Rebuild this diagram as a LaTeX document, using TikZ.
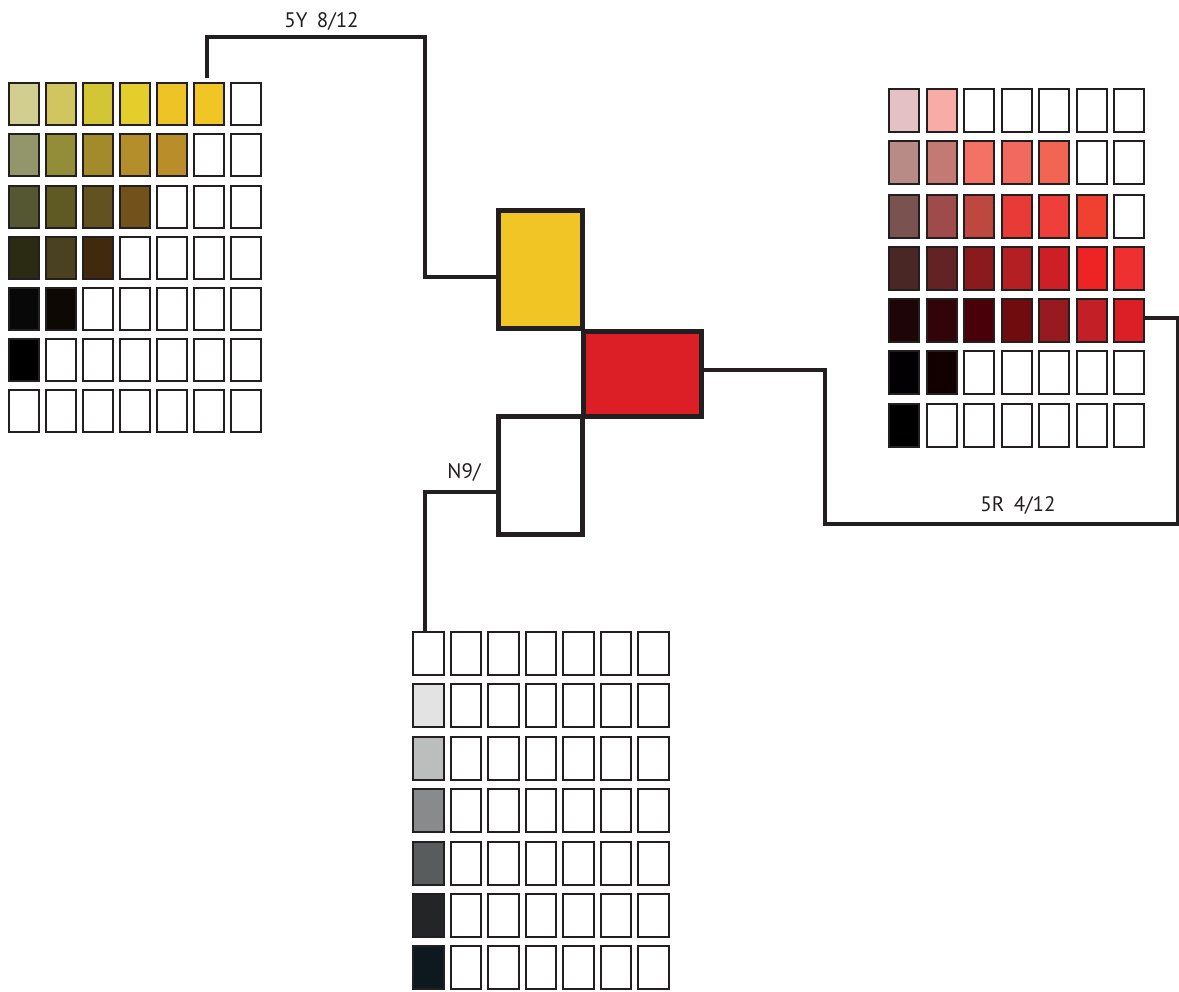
\documentclass[tikz,border=0pt]{standalone}
\usepackage{fontspec}
\setmainfont{PT Sans}
\definecolor{ink}{HTML}{231F20}
% yellow grid
\definecolor{ya1}{HTML}{D2CE8F}\definecolor{ya2}{HTML}{D0C55E}\definecolor{ya3}{HTML}{D4C534}
\definecolor{ya4}{HTML}{E4CE2B}\definecolor{ya5}{HTML}{EDC325}\definecolor{ya6}{HTML}{F0C524}
\definecolor{yb1}{HTML}{93956A}\definecolor{yb2}{HTML}{938D3A}\definecolor{yb3}{HTML}{A38B2B}
\definecolor{yb4}{HTML}{B38E2A}\definecolor{yb5}{HTML}{B88D2A}
\definecolor{yc1}{HTML}{555733}\definecolor{yc2}{HTML}{5F5A23}\definecolor{yc3}{HTML}{62521F}
\definecolor{yc4}{HTML}{72511A}
\definecolor{yd1}{HTML}{2A2B12}\definecolor{yd2}{HTML}{4A421E}\definecolor{yd3}{HTML}{40290C}
\definecolor{ye1}{HTML}{080808}\definecolor{ye2}{HTML}{0D0804}
\definecolor{yf1}{HTML}{000000}
% red grid
\definecolor{ra1}{HTML}{E3C1C4}\definecolor{ra2}{HTML}{F8ACA8}
\definecolor{rb1}{HTML}{B98B87}\definecolor{rb2}{HTML}{C47A74}\definecolor{rb3}{HTML}{F37265}
\definecolor{rb4}{HTML}{F26A5F}\definecolor{rb5}{HTML}{F26552}
\definecolor{rc1}{HTML}{7A5351}\definecolor{rc2}{HTML}{9F4B4B}\definecolor{rc3}{HTML}{BE473F}
\definecolor{rc4}{HTML}{E83B38}\definecolor{rc5}{HTML}{EE3F3B}\definecolor{rc6}{HTML}{EF4030}
\definecolor{rd1}{HTML}{482725}\definecolor{rd2}{HTML}{632223}\definecolor{rd3}{HTML}{8A1A1C}
\definecolor{rd4}{HTML}{B41F23}\definecolor{rd5}{HTML}{CE1E26}\definecolor{rd6}{HTML}{EE2424}
\definecolor{rd7}{HTML}{EE3030}
\definecolor{re1}{HTML}{1E0508}\definecolor{re2}{HTML}{33030A}\definecolor{re3}{HTML}{4A0009}
\definecolor{re4}{HTML}{700B0E}\definecolor{re5}{HTML}{961A1E}\definecolor{re6}{HTML}{C21F26}
\definecolor{re7}{HTML}{DC1F27}
\definecolor{rf1}{HTML}{020003}\definecolor{rf2}{HTML}{120000}
\definecolor{rg1}{HTML}{000000}
% gray grid
\definecolor{gb1}{HTML}{E3E3E3}\definecolor{gc1}{HTML}{BCBEBD}\definecolor{gd1}{HTML}{898A8C}
\definecolor{ge1}{HTML}{585C5D}\definecolor{gf1}{HTML}{232527}\definecolor{gg1}{HTML}{0E181F}
% central boxes
\definecolor{bigyellow}{HTML}{F0C524}
\definecolor{bigred}{HTML}{DC1F26}

\newcommand\mygridrow[7]{%
  \foreach \cc [count=\ci] in {#7} {
    \node[#6, fill=\cc] (#1-#2-\ci) at ({#3+(\ci-1)*#4},{-#5}) {};
  }%
}

\begin{document}
\begin{tikzpicture}[x=1pt,y=1pt,
  cellbase/.style={draw=ink, line width=2pt, inner sep=0pt, outer sep=0pt, rectangle},
  cellY/.style={cellbase, minimum width=29.5pt, minimum height=41.7pt},
  cellR/.style={cellbase, minimum width=30pt, minimum height=43pt},
  cellG/.style={cellbase, minimum width=30.5pt, minimum height=43pt},
  bigbox/.style={draw=ink, line width=5pt, inner sep=0pt, outer sep=0pt, rectangle},
  conn/.style={draw=ink, line width=4pt},
  lab/.style={text=ink, font=\fontsize{21}{24}\selectfont, inner sep=0pt}]
\useasboundingbox (0,0) rectangle (1179,-992);

% yellow grid
\mygridrow{y}{1}{24.2}{37.0}{104.2}{cellY}{ya1,ya2,ya3,ya4,ya5,ya6,white}
\mygridrow{y}{2}{24.2}{37.0}{155.3}{cellY}{yb1,yb2,yb3,yb4,yb5,white,white}
\mygridrow{y}{3}{24.2}{37.0}{207.0}{cellY}{yc1,yc2,yc3,yc4,white,white,white}
\mygridrow{y}{4}{24.2}{37.0}{258.0}{cellY}{yd1,yd2,yd3,white,white,white,white}
\mygridrow{y}{5}{24.2}{37.0}{309.2}{cellY}{ye1,ye2,white,white,white,white,white}
\mygridrow{y}{6}{24.2}{37.0}{359.7}{cellY}{yf1,white,white,white,white,white,white}
\mygridrow{y}{7}{24.2}{37.0}{410.9}{cellY}{white,white,white,white,white,white,white}

% red grid
\mygridrow{r}{1}{904.3}{37.45}{110.8}{cellR}{ra1,ra2,white,white,white,white,white}
\mygridrow{r}{2}{904.3}{37.45}{163.0}{cellR}{rb1,rb2,rb3,rb4,rb5,white,white}
\mygridrow{r}{3}{904.3}{37.45}{216.4}{cellR}{rc1,rc2,rc3,rc4,rc5,rc6,white}
\mygridrow{r}{4}{904.3}{37.45}{268.4}{cellR}{rd1,rd2,rd3,rd4,rd5,rd6,rd7}
\mygridrow{r}{5}{904.3}{37.45}{320.8}{cellR}{re1,re2,re3,re4,re5,re6,re7}
\mygridrow{r}{6}{904.3}{37.45}{373.0}{cellR}{rf1,rf2,white,white,white,white,white}
\mygridrow{r}{7}{904.3}{37.45}{425.2}{cellR}{rg1,white,white,white,white,white,white}

% gray grid
\mygridrow{g}{1}{428.7}{37.5}{653.4}{cellG}{white,white,white,white,white,white,white}
\mygridrow{g}{2}{428.7}{37.5}{705.5}{cellG}{gb1,white,white,white,white,white,white}
\mygridrow{g}{3}{428.7}{37.5}{758.5}{cellG}{gc1,white,white,white,white,white,white}
\mygridrow{g}{4}{428.7}{37.5}{810.8}{cellG}{gd1,white,white,white,white,white,white}
\mygridrow{g}{5}{428.7}{37.5}{863.0}{cellG}{ge1,white,white,white,white,white,white}
\mygridrow{g}{6}{428.7}{37.5}{915.2}{cellG}{gf1,white,white,white,white,white,white}
\mygridrow{g}{7}{428.7}{37.5}{967.5}{cellG}{gg1,white,white,white,white,white,white}

% central boxes
\node[bigbox, fill=bigyellow, minimum width=84pt, minimum height=117.7pt] (ybox) at (540.5,-269.65) {};
\node[bigbox, fill=bigred, minimum width=117.7pt, minimum height=84.4pt] (rbox) at (642.35,-374) {};
\node[bigbox, fill=white, minimum width=84pt, minimum height=117.7pt] (wbox) at (540.5,-475.35) {};

% connector turning points
\coordinate (yturn) at (425,-36.7);
\coordinate (rturnA) at (825,-524);
\coordinate (rturnB) at (1177.5,-524);

% connectors
\draw[conn, shorten <=5pt] ([xshift=-2pt]y-1-6.north) |- (yturn) |- ([yshift=-7pt,xshift=-2.5pt]ybox.west);
\draw[conn] ([yshift=4pt,xshift=2.5pt]rbox.east) -| (rturnA) -- (rturnB) |- ([yshift=3pt]r-5-7.east);
\draw[conn] ([yshift=-16.5pt,xshift=-2.5pt]wbox.west) -| ([xshift=-4pt]g-1-1.north);

% labels
\node[lab] (lY) at (321.5,-21) {5Y\hspace{0.45em}8/12};
\node[lab] (lN) at (464,-472) {N9/};
\node[lab] (lR) at (1018,-505) {5R\hspace{0.45em}4/12};
\end{tikzpicture}
\end{document}
